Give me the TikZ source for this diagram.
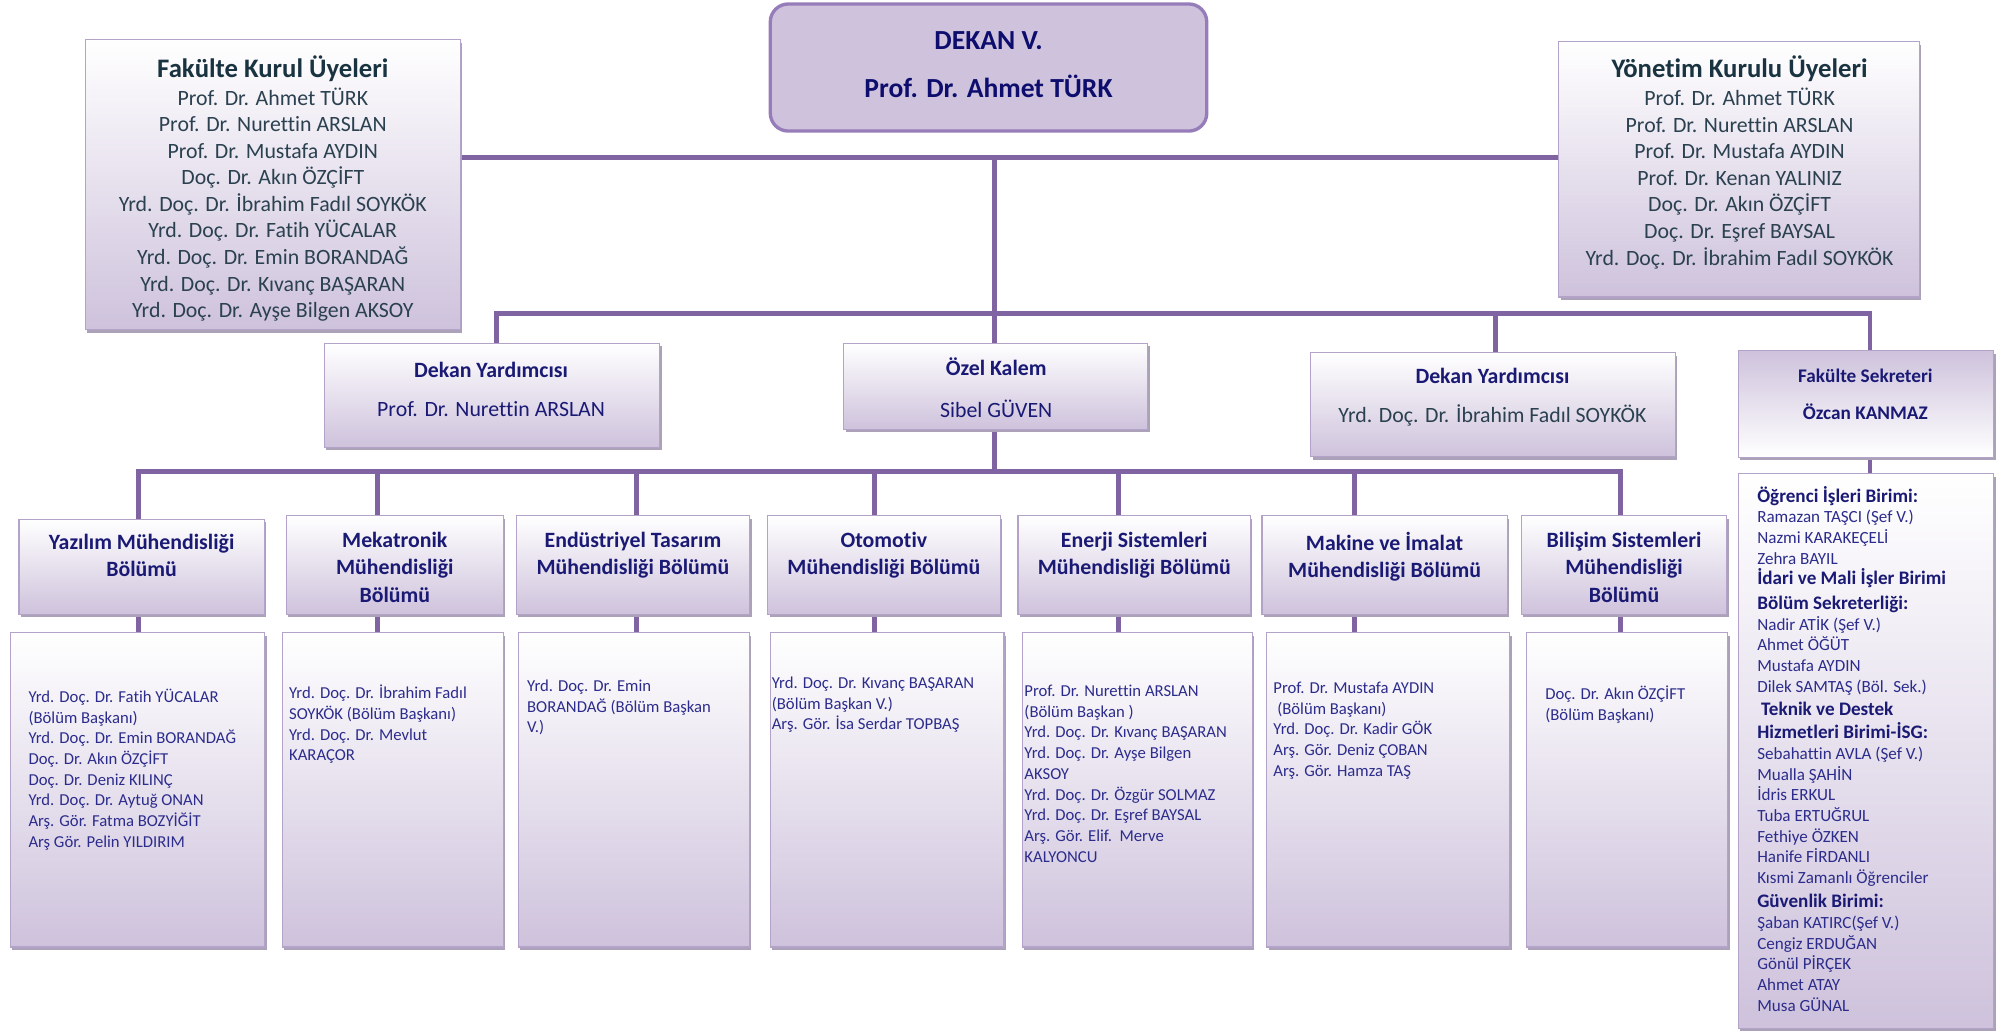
\documentclass[tikz,border=0pt]{standalone}
\usepackage{fontspec}
\setmainfont{Carlito}[Ligatures=NoCommon]
\usetikzlibrary{shadows,backgrounds}

\definecolor{lila}{HTML}{CEC2DC}
\definecolor{kenar}{HTML}{B3A3C8}
\definecolor{golge}{HTML}{ABA1B8}
\definecolor{cizgi}{HTML}{8064A2}
\definecolor{cerceve}{HTML}{967DB9}
\definecolor{arduvaz}{HTML}{2B4150}
\definecolor{koyuarduvaz}{HTML}{1A3340}
\definecolor{lacivert}{HTML}{1A1A75}
\definecolor{uyemavi}{HTML}{2C2C8C}
\definecolor{dekanmavi}{HTML}{0D0D6E}

\newcommand{\birim}[1]{{\fontsize{14.9}{16.1}\selectfont\bfseries\color{lacivert}#1}}

\begin{document}
\begin{tikzpicture}[x=1pt, y=-1pt,
    kutu/.style = {draw=kenar, line width=0.9pt, top color=white, bottom color=lila, inner sep=0pt,
        drop shadow={shadow xshift=1.6pt, shadow yshift=-2.4pt, fill=golge, opacity=1}},
    terskutu/.style = {kutu, top color=lila, bottom color=white},
    dekankutu/.style = {draw=cerceve, line width=2.6pt, fill=lila, rounded corners=14pt, inner sep=0pt},
    hat/.style = {draw=cizgi, line width=3.8pt, line cap=rect},
    ortayazi/.style = {align=center, inner sep=0pt, anchor=north, execute at begin node=\strut},
    isim/.style = {ortayazi, font=\fontsize{17}{20.7}\selectfont},
    bolum/.style = {ortayazi, font=\fontsize{17}{21.4}\selectfont\bfseries, text=lacivert},
    uye/.style = {align=left, inner sep=0pt, anchor=north west, execute at begin node=\strut,
        font=\fontsize{13}{16.1}\selectfont, text=uyemavi},
  ]
  \useasboundingbox (0,0) rectangle (1568,805);

  \node[dekankutu, minimum width=340pt, minimum height=99pt] (dekan) at (770,52.6) {};
  \node[ortayazi, font=\fontsize{21.5}{26}\selectfont\bfseries, text=dekanmavi] (dekanT) at (770,24.3)
    {DEKAN V.\\[11.4pt]Prof. Dr. Ahmet TÜRK};

  \node[kutu, minimum width=292pt, minimum height=226pt] (fkk) at (212.5,143.8) {};
  \node[font=\fontsize{20.8}{24}\selectfont\bfseries, text=koyuarduvaz, anchor=base, inner sep=0pt] (fkkB) at (212.5,60) {Fakülte Kurul Üyeleri};
  \node[isim, text=arduvaz] (fkkL) at (212.5,68) {Prof. Dr. Ahmet TÜRK\\
    Prof. Dr. Nurettin ARSLAN\\
    Prof. Dr. Mustafa AYDIN\\
    Doç. Dr. Akın ÖZÇİFT\\
    Yrd. Doç. Dr. İbrahim Fadıl SOYKÖK\\
    Yrd. Doç. Dr. Fatih YÜCALAR\\
    Yrd. Doç. Dr. Emin BORANDAĞ\\
    Yrd. Doç. Dr. Kıvanç BAŞARAN\\
    Yrd. Doç. Dr. Ayşe Bilgen AKSOY};

  \node[kutu, minimum width=281pt, minimum height=199pt] (ykk) at (1354.5,131.8) {};
  \node[font=\fontsize{20.8}{24}\selectfont\bfseries, text=koyuarduvaz, anchor=base, inner sep=0pt] (ykkB) at (1355,60) {Yönetim Kurulu Üyeleri};
  \node[isim, text=arduvaz] (ykkL) at (1355,68.4) {Prof. Dr. Ahmet TÜRK\\
    Prof. Dr. Nurettin ARSLAN\\
    Prof. Dr. Mustafa AYDIN\\
    Prof. Dr. Kenan YALINIZ\\
    Doç. Dr. Akın ÖZÇİFT\\
    Doç. Dr. Eşref BAYSAL\\
    Yrd. Doç. Dr. İbrahim Fadıl SOYKÖK};

  \node[kutu, minimum width=261pt, minimum height=81pt] (dy1) at (383.2,307.9) {};
  \node[isim, text=lacivert] (dy1T) at (382.5,281.7) {\textbf{Dekan Yardımcısı}\\[10pt]Prof. Dr. Nurettin ARSLAN};
  \node[kutu, minimum width=237pt, minimum height=67pt] (ok) at (775.5,300.9) {};
  \node[isim, text=lacivert] (okT) at (776,278.8) {\textbf{Özel Kalem}\\[11.3pt]Sibel GÜVEN};
  \node[kutu, minimum width=284pt, minimum height=81pt] (dy2) at (1163,315.2) {};
  \node[isim, text=lacivert] (dy2T) at (1162.5,286.4) {\textbf{Dekan Yardımcısı}\\[10.1pt]\textcolor{arduvaz}{Yrd. Doç. Dr. İbrahim Fadıl SOYKÖK}};
  \node[terskutu, minimum width=199pt, minimum height=83pt] (fs) at (1453.5,314.7) {};
  \node[ortayazi, font=\fontsize{15}{18.5}\selectfont\bfseries, text=lacivert] (fsT) at (1453,287.6) {Fakülte Sekreteri\\[10.3pt]Özcan KANMAZ};
  \node[kutu, minimum width=199pt, minimum height=432pt] (fsb) at (1453.5,584.9) {};
  \node[uye, font=\fontsize{13.3}{16.1}\selectfont] (fsbL) at (1368.6,378.6) {\birim{Öğrenci İşleri Birimi:}\\
    Ramazan TAŞCI (Şef V.)\\
    Nazmi KARAKEÇELİ\\
    Zehra BAYIL\\
    \birim{İdari ve Mali İşler Birimi}\\[3pt]
    \birim{Bölüm Sekreterliği:}\\
    Nadir ATİK (Şef V.)\\
    Ahmet ÖĞÜT\\
    Mustafa AYDIN\\
    Dilek SAMTAŞ (Böl. Sek.)\\[2.3pt]
    \hspace*{3pt}\birim{Teknik ve Destek}\\[1.8pt]
    \birim{Hizmetleri Birimi-İSG:}\\
    Sebahattin AVLA (Şef V.)\\
    Mualla ŞAHİN\\
    İdris ERKUL\\
    Tuba ERTUĞRUL\\
    Fethiye ÖZKEN\\
    Hanife FİRDANLI\\
    Kısmi Zamanlı Öğrenciler\\[2.8pt]
    \birim{Güvenlik Birimi:}\\
    Şaban KATIRC(Şef V.)\\
    Cengiz ERDUĞAN\\
    Gönül PİRÇEK\\
    Ahmet ATAY\\
    Musa GÜNAL};

  \node[kutu, minimum width=191pt, minimum height=74pt] (b-yaz) at (110.3,441.4) {};
  \node[bolum] (b-yazT) at (110.3,415.9) {Yazılım Mühendisliği\\Bölümü};
  \node[kutu, minimum width=169pt, minimum height=77pt] (b-mek) at (307.5,440) {};
  \node[bolum] (b-mekT) at (307.5,414) {Mekatronik\\Mühendisliği\\Bölümü};
  \node[kutu, minimum width=182pt, minimum height=77pt] (b-endu) at (493,440) {};
  \node[bolum] (b-enduT) at (493,414) {Endüstriyel Tasarım\\Mühendisliği Bölümü};
  \node[kutu, minimum width=181pt, minimum height=77pt] (b-oto) at (688.5,440) {};
  \node[bolum] (b-otoT) at (688.5,414) {Otomotiv\\Mühendisliği Bölümü};
  \node[kutu, minimum width=181pt, minimum height=77pt] (b-ene) at (883.5,440) {};
  \node[bolum] (b-eneT) at (883.5,414) {Enerji Sistemleri\\Mühendisliği Bölümü};
  \node[kutu, minimum width=191pt, minimum height=77pt] (b-mak) at (1078.5,440) {};
  \node[bolum] (b-makT) at (1078.5,414) {Makine ve İmalat\\Mühendisliği Bölümü};
  \node[kutu, minimum width=160pt, minimum height=77pt] (b-bil) at (1265,440) {};
  \node[bolum] (b-bilT) at (1265,414) {Bilişim Sistemleri\\Mühendisliği\\Bölümü};

  \node[kutu, minimum width=198pt, minimum height=245pt] (u-yaz) at (107,615.2) {};
  \node[uye] (u-yazL) at (22,536.5) {Yrd. Doç. Dr. Fatih YÜCALAR\\
    (Bölüm Başkanı)\\
    Yrd. Doç. Dr. Emin BORANDAĞ\\
    Doç. Dr. Akın ÖZÇİFT\\
    Doç. Dr. Deniz KILINÇ\\
    Yrd. Doç. Dr. Aytuğ ONAN\\
    Arş. Gör. Fatma BOZYİĞİT\\
    Arş Gör. Pelin YILDIRIM};
  \node[kutu, minimum width=172pt, minimum height=245pt] (u-mek) at (306,615.2) {};
  \node[uye] (u-mekL) at (225,533.5) {Yrd. Doç. Dr. İbrahim Fadıl\\
    SOYKÖK (Bölüm Başkanı)\\
    Yrd. Doç. Dr. Mevlut\\
    KARAÇOR};
  \node[kutu, minimum width=180pt, minimum height=245pt] (u-endu) at (493.6,615.2) {};
  \node[uye] (u-enduL) at (410.4,529.5) {Yrd. Doç. Dr. Emin\\
    BORANDAĞ (Bölüm Başkan\\
    V.)};
  \node[kutu, minimum width=182pt, minimum height=245pt] (u-oto) at (691,615.2) {};
  \node[uye] (u-otoL) at (601,527) {Yrd. Doç. Dr. Kıvanç BAŞARAN\\
    (Bölüm Başkan V.)\\
    Arş. Gör. İsa Serdar TOPBAŞ};
  \node[kutu, minimum width=179pt, minimum height=245pt] (u-ene) at (885.8,615.2) {};
  \node[uye] (u-eneL) at (797.8,533.5) {Prof. Dr. Nurettin ARSLAN\\
    (Bölüm Başkan )\\
    Yrd. Doç. Dr. Kıvanç BAŞARAN\\
    Yrd. Doç. Dr. Ayşe Bilgen\\
    AKSOY\\
    Yrd. Doç. Dr. Özgür SOLMAZ\\
    Yrd. Doç. Dr. Eşref BAYSAL\\
    Arş. Gör. Elif.\ \ Merve\\
    KALYONCU};
  \node[kutu, minimum width=189pt, minimum height=245pt] (u-mak) at (1081.3,615.2) {};
  \node[uye] (u-makL) at (991.7,531) {Prof. Dr. Mustafa AYDIN\\
    \hspace*{3pt}(Bölüm Başkanı)\\
    Yrd. Doç. Dr. Kadir GÖK\\
    Arş. Gör. Deniz ÇOBAN\\
    Arş. Gör. Hamza TAŞ};
  \node[kutu, minimum width=157pt, minimum height=245pt] (u-bil) at (1267.3,615.2) {};
  \node[uye] (u-bilL) at (1203.5,534) {Doç. Dr. Akın ÖZÇİFT\\
    (Bölüm Başkanı)};

  \begin{scope}[on background layer]
    \coordinate (h1) at (774.7,123);
    \coordinate (h3) at (774.7,367);
    \coordinate (s1) at (387,244);
    \coordinate (s2) at (1165,244);
    \coordinate (s3) at (1456.6,244);
    \draw[hat] (fkk.east |- h1) -- (ykk.west |- h1);
    \draw[hat] (h1) -- (ok.north -| h1);
    \draw[hat] (ok.south -| h1) -- (h3);
    \draw[hat] (dy1.north -| s1) -- (s1) -- (s3) -- (fs.north -| s3);
    \draw[hat] (s2) -- (dy2.north -| s2);
    \draw[hat] (fs.south -| s3) -- (fsb.north -| s3);
    \foreach \k/\x in {yaz/107.8, mek/293.8, endu/496, oto/681, ene/871, mak/1055, bil/1262} {
      \coordinate (d-\k) at (\x,367);
      \draw[hat] (d-\k) -- (d-\k |- b-\k.north);
      \draw[hat] (d-\k |- b-\k.south) -- (d-\k |- u-\k.north);
    }
    \draw[hat] (d-yaz) -- (d-bil);
  \end{scope}
\end{tikzpicture}
\end{document}
